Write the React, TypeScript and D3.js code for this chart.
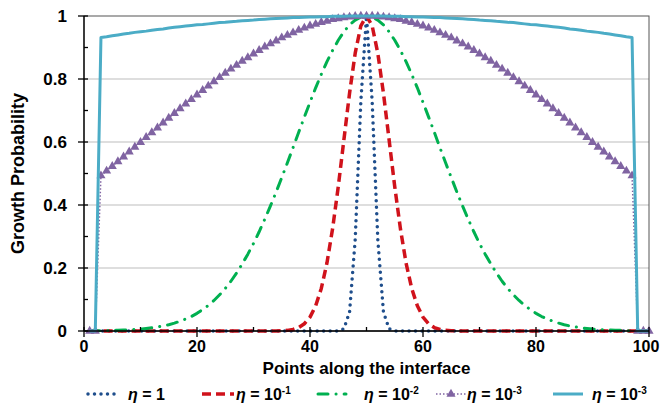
import React, { useEffect, useRef } from 'react';
import * as d3 from 'd3';

// x positions of the grid points along the interface
const points: number[] = d3.range(1, 101);

// growth probability for each eta, x = 1..100
const eta1 = [
    0, 0, 0, 0, 0, 0, 0, 0, 0, 0,
    0, 0, 0, 0, 0, 0, 0, 0, 0, 0,
    0, 0, 0, 0, 0, 0, 0, 0, 0, 0,
    0, 0, 0, 0, 0, 0, 0, 0, 0, 0,
    0, 0, 0, 0, 0, 0.007, 0.06, 0.29, 0.73, 1,
    0.73, 0.29, 0.06, 0.007, 0, 0, 0, 0, 0, 0,
    0, 0, 0, 0, 0, 0, 0, 0, 0, 0,
    0, 0, 0, 0, 0, 0, 0, 0, 0, 0,
    0, 0, 0, 0, 0, 0, 0, 0, 0, 0,
    0, 0, 0, 0, 0, 0, 0, 0, 0, 0,
];

const eta01 = [
    0, 0, 0, 0, 0, 0, 0, 0, 0, 0,
    0, 0, 0, 0, 0, 0, 0, 0, 0, 0,
    0, 0, 0, 0, 0, 0, 0, 0, 0, 0,
    0, 0, 0, 0, 0.001, 0.002, 0.005, 0.011, 0.023, 0.044,
    0.080, 0.135, 0.216, 0.325, 0.458, 0.607, 0.755, 0.882, 0.969, 1,
    0.969, 0.882, 0.755, 0.607, 0.458, 0.325, 0.216, 0.135, 0.080, 0.044,
    0.023, 0.011, 0.005, 0.002, 0.001, 0, 0, 0, 0, 0,
    0, 0, 0, 0, 0, 0, 0, 0, 0, 0,
    0, 0, 0, 0, 0, 0, 0, 0, 0, 0,
    0, 0, 0, 0, 0, 0, 0, 0, 0, 0,
];

const eta001 = [
    0, 0, 0.001, 0.001, 0.002, 0.002, 0.003, 0.004, 0.005, 0.006,
    0.008, 0.010, 0.013, 0.016, 0.020, 0.025, 0.031, 0.038, 0.046, 0.056,
    0.068, 0.081, 0.097, 0.115, 0.135, 0.158, 0.184, 0.213, 0.244, 0.278,
    0.315, 0.355, 0.397, 0.441, 0.487, 0.534, 0.582, 0.631, 0.679, 0.726,
    0.772, 0.815, 0.855, 0.891, 0.923, 0.950, 0.972, 0.987, 0.997, 1,
    0.997, 0.987, 0.972, 0.950, 0.923, 0.891, 0.855, 0.815, 0.772, 0.726,
    0.679, 0.631, 0.582, 0.534, 0.487, 0.441, 0.397, 0.355, 0.315, 0.278,
    0.244, 0.213, 0.184, 0.158, 0.135, 0.115, 0.097, 0.081, 0.068, 0.056,
    0.046, 0.038, 0.031, 0.025, 0.020, 0.016, 0.013, 0.010, 0.008, 0.006,
    0.005, 0.004, 0.003, 0.002, 0.002, 0.001, 0.001, 0, 0, 0,
];

const eta0001 = [
    0, 0, 0.493, 0.508, 0.523, 0.538, 0.553, 0.569, 0.584, 0.599,
    0.615, 0.630, 0.645, 0.661, 0.676, 0.691, 0.706, 0.721, 0.735, 0.750,
    0.764, 0.778, 0.792, 0.805, 0.819, 0.832, 0.844, 0.857, 0.868, 0.880,
    0.891, 0.902, 0.912, 0.921, 0.931, 0.939, 0.947, 0.955, 0.962, 0.969,
    0.974, 0.980, 0.984, 0.989, 0.992, 0.995, 0.997, 0.999, 1, 1,
    1, 0.999, 0.997, 0.995, 0.992, 0.989, 0.984, 0.980, 0.974, 0.969,
    0.962, 0.955, 0.947, 0.939, 0.931, 0.921, 0.912, 0.902, 0.891, 0.880,
    0.868, 0.857, 0.844, 0.832, 0.819, 0.805, 0.792, 0.778, 0.764, 0.750,
    0.735, 0.721, 0.706, 0.691, 0.676, 0.661, 0.645, 0.630, 0.615, 0.599,
    0.584, 0.569, 0.553, 0.538, 0.523, 0.508, 0.493, 0, 0, 0,
];

const eta0001b = [
    0, 0, 0.932, 0.934, 0.937, 0.940, 0.943, 0.945, 0.948, 0.950,
    0.952, 0.955, 0.957, 0.959, 0.962, 0.964, 0.966, 0.968, 0.970, 0.972,
    0.973, 0.975, 0.977, 0.979, 0.980, 0.982, 0.983, 0.985, 0.986, 0.987,
    0.989, 0.990, 0.991, 0.992, 0.993, 0.994, 0.995, 0.995, 0.996, 0.997,
    0.997, 0.998, 0.998, 0.999, 0.999, 0.999, 1, 1, 1, 1,
    1, 1, 1, 0.999, 0.999, 0.999, 0.998, 0.998, 0.997, 0.997,
    0.996, 0.995, 0.995, 0.994, 0.993, 0.992, 0.991, 0.990, 0.989, 0.987,
    0.986, 0.985, 0.983, 0.982, 0.980, 0.979, 0.977, 0.975, 0.973, 0.972,
    0.970, 0.968, 0.966, 0.964, 0.962, 0.959, 0.957, 0.955, 0.952, 0.950,
    0.948, 0.945, 0.943, 0.940, 0.937, 0.934, 0.932, 0, 0, 0,
];

const xTicks = [0, 20, 40, 60, 80, 100];
const yTicks = [0, 0.2, 0.4, 0.6, 0.8, 1];
const yTickLabels = ['0', '0.2', '0.4', '0.6', '0.8', '1'];
const legendBases = ['1', '10', '10', '10', '10'];
const legendExponents = ['', '-1', '-2', '-3', '-3'];

const FONT = '"Liberation Sans", Arial, sans-serif';

type Series = {
    values: number[];
    color: string;
    width: number;
    dash: string | null;
    cap: string;
    marker: boolean;
};

const seriesList: Series[] = [
    { values: eta1, color: '#1F4E8C', width: 3.5, dash: '0 6.5', cap: 'round', marker: false },
    { values: eta01, color: '#D0121B', width: 3.5, dash: '9 5', cap: 'butt', marker: false },
    { values: eta001, color: '#00B050', width: 3, dash: '10 8 0.1 8', cap: 'round', marker: false },
    { values: eta0001, color: '#8064A2', width: 1.5, dash: '1.5 2', cap: 'butt', marker: true },
    { values: eta0001b, color: '#4BACC6', width: 3, dash: null, cap: 'butt', marker: false },
];

const GrowthChart = ({ width = 661, height = 411 }) => {
    const svgRef = useRef<SVGSVGElement>(null);

    useEffect(() => {
        const svg = d3.select(svgRef.current);
        svg.selectAll('*').remove();

        const left = 84, right = 649, top = 16, bottom = 331;

        const xScale = d3.scaleLinear().domain([0, 100]).range([left, right]);
        const yScale = d3.scaleLinear().domain([0, 1]).range([bottom, top]);

        svg.attr('width', width).attr('height', height)
            .style('font-family', FONT);

        svg.append('rect')
            .attr('width', width).attr('height', height)
            .attr('fill', 'white');

        // gridlines
        svg.append('g')
            .selectAll('line')
            .data(yTicks.filter((t) => t > 0 && t < 1))
            .enter()
            .append('line')
            .attr('x1', left).attr('x2', right)
            .attr('y1', (d) => yScale(d)).attr('y2', (d) => yScale(d))
            .attr('stroke', '#BEBEBE')
            .attr('stroke-width', 1.2);

        // plot area frame
        svg.append('rect')
            .attr('x', left).attr('y', top)
            .attr('width', right - left).attr('height', bottom - top)
            .attr('fill', 'none')
            .attr('stroke', '#555')
            .attr('stroke-width', 1);

        // series
        const line = d3.line<number>()
            .x((_, i) => xScale(points[i]))
            .y((d) => yScale(d));

        seriesList.forEach((s) => {
            const path = svg.append('path')
                .datum(s.values)
                .attr('fill', 'none')
                .attr('stroke', s.color)
                .attr('stroke-width', s.width)
                .attr('stroke-linecap', s.cap)
                .attr('stroke-linejoin', 'round')
                .attr('d', line);
            if (s.dash) path.attr('stroke-dasharray', s.dash);

            if (s.marker) {
                svg.append('g')
                    .selectAll('path')
                    .data(s.values)
                    .enter()
                    .append('path')
                    .attr('d', d3.symbol(d3.symbolTriangle, 36)())
                    .attr('transform', (d, i) => `translate(${xScale(points[i])},${yScale(d)})`)
                    .attr('fill', s.color);
            }
        });

        // axes
        const axes = svg.append('g').attr('stroke', 'black').attr('stroke-width', 1.3);
        axes.append('line')
            .attr('x1', left).attr('x2', left)
            .attr('y1', top).attr('y2', bottom);
        axes.append('line')
            .attr('x1', left).attr('x2', right)
            .attr('y1', bottom).attr('y2', bottom);

        d3.range(0, 1.01, 0.1).forEach((t, i) => {
            const yy = yScale(t);
            if (i % 2 === 0) {
                axes.append('line').attr('x1', left - 6).attr('x2', left + 4).attr('y1', yy).attr('y2', yy);
            } else {
                axes.append('line').attr('x1', left).attr('x2', left + 4).attr('y1', yy).attr('y2', yy);
            }
        });
        d3.range(0, 101, 10).forEach((t, i) => {
            const xx = xScale(t);
            if (i % 2 === 0) {
                axes.append('line').attr('x1', xx).attr('x2', xx).attr('y1', bottom - 4).attr('y2', bottom + 6);
            } else {
                axes.append('line').attr('x1', xx).attr('x2', xx).attr('y1', bottom - 4).attr('y2', bottom);
            }
        });

        // tick labels
        svg.append('g')
            .selectAll('text')
            .data(yTicks)
            .enter()
            .append('text')
            .attr('x', left - 17)
            .attr('y', (d) => yScale(d) + 6)
            .attr('text-anchor', 'end')
            .style('font-size', '17px')
            .style('font-weight', 'bold')
            .text((_, i) => yTickLabels[i]);

        // last label is kept inside the page edge
        svg.append('g')
            .selectAll('text')
            .data(xTicks)
            .enter()
            .append('text')
            .attr('x', (d) => Math.min(xScale(d), width - 15))
            .attr('y', bottom + 21)
            .attr('text-anchor', 'middle')
            .style('font-size', '16px')
            .style('font-weight', 'bold')
            .text((d) => String(d));

        // axis titles
        svg.append('text')
            .attr('x', (left + right) / 2)
            .attr('y', 374)
            .attr('text-anchor', 'middle')
            .style('font-size', '17px')
            .style('font-weight', 'bold')
            .text('Points along the interface');

        svg.append('text')
            .attr('transform', 'rotate(-90)')
            .attr('x', -(top + bottom) / 2)
            .attr('y', 24)
            .attr('text-anchor', 'middle')
            .style('font-size', '18px')
            .style('font-weight', 'bold')
            .text('Growth Probability');

        // legend
        const legendY = 394;
        const sampleX = [88, 202, 318, 436, 553];
        const sampleW = [30, 32, 28, 30, 30];
        const textX = [128, 236, 364, 467, 592];

        seriesList.forEach((s, i) => {
            const g = svg.append('g');
            const sl = g.append('line')
                .attr('x1', sampleX[i]).attr('x2', sampleX[i] + sampleW[i])
                .attr('y1', legendY).attr('y2', legendY)
                .attr('stroke', s.color)
                .attr('stroke-width', s.width)
                .attr('stroke-linecap', s.cap);
            if (s.dash) sl.attr('stroke-dasharray', s.dash);
            if (s.marker) {
                g.append('path')
                    .attr('d', d3.symbol(d3.symbolTriangle, 36)())
                    .attr('transform', `translate(${sampleX[i] + sampleW[i] / 2},${legendY})`)
                    .attr('fill', s.color);
            }

            const t = g.append('text')
                .attr('x', textX[i])
                .attr('y', legendY + 6)
                .style('font-size', '16px')
                .style('font-weight', 'bold');
            t.append('tspan').style('font-style', 'italic').text('η');
            t.append('tspan').text(' = ' + legendBases[i]);
            if (legendExponents[i]) {
                t.append('tspan')
                    .attr('dy', -6)
                    .style('font-size', '10px')
                    .text(legendExponents[i]);
            }
        });
    }, [width, height]);

    return <svg ref={svgRef} style={{ position: 'absolute', left: 0, top: 0 }}></svg>;
};

export default function App() {
    return <GrowthChart />;
}
